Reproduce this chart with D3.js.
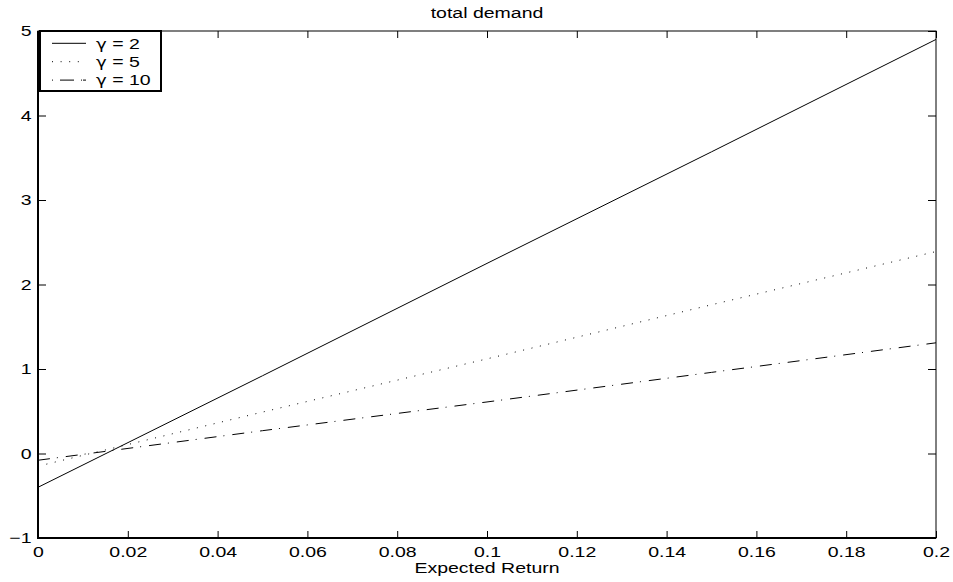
<!DOCTYPE html>
<html>
<head>
<meta charset="utf-8">
<script src="https://cdn.jsdelivr.net/npm/d3@7"></script>
<style>
  body { margin: 0; background: #fff; }
  text { font-family: "Liberation Sans", Arial, sans-serif; fill: #000; }
</style>
</head>
<body>
<div id="chart"></div>
<script>
//Datos
const expectedReturn = [0, 0.05, 0.1, 0.15, 0.2];
const demandGamma2 = [-0.40, 0.92, 2.25, 3.57, 4.90];
const demandGamma5 = [-0.15, 0.49, 1.12, 1.76, 2.39];
const demandGamma10 = [-0.08, 0.27, 0.61, 0.96, 1.31];
const gammaValues = ['2', '5', '10'];
const xTicks = [0, 0.02, 0.04, 0.06, 0.08, 0.1, 0.12, 0.14, 0.16, 0.18, 0.2];
const yTicks = [-1, 0, 1, 2, 3, 4, 5];

//Estilos de linea
const dashes = [null, '1,7.6', '12,7,1,8'];
const FONT = '"Liberation Sans", Arial, sans-serif';
const FS = 15, SX = 1.3; //texto estirado en horizontal como en la figura original

let margin = {top: 31, right: 17, bottom: 44, left: 38},
    width = 953 - margin.left - margin.right,
    height = 582 - margin.top - margin.bottom;

let svg = d3.select('#chart')
    .append('svg')
      .attr('width', 953)
      .attr('height', 582)
    .append('g')
      .attr('transform', 'translate(' + margin.left + ',' + margin.top + ')');

let x = d3.scaleLinear().domain([0, 0.2]).range([0, width]);
let y = d3.scaleLinear().domain([-1, 5]).range([height, 0]);

let fmt = function(d) { return d < 0 ? '\u2212' + Math.abs(d) : String(d); };

//Ejes (ticks hacia dentro)
svg.append('g')
    .attr('transform', 'translate(0,' + height + ')')
    .call(d3.axisBottom(x).tickValues(xTicks).tickFormat(fmt).tickSizeInner(-7).tickSizeOuter(0).tickPadding(8))
    .call(function(g) { g.select('.domain').remove(); })
    .call(function(g) {
        g.selectAll('.tick text')
            .attr('font-size', FS).attr('font-family', FONT)
            .attr('transform', 'scale(' + SX + ',1)');
    });

svg.append('g')
    .call(d3.axisTop(x).tickValues(xTicks).tickFormat('').tickSizeInner(-7).tickSizeOuter(0))
    .call(function(g) { g.select('.domain').remove(); });

svg.append('g')
    .call(d3.axisLeft(y).tickValues(yTicks).tickFormat(fmt).tickSizeInner(-8).tickSizeOuter(0).tickPadding(5))
    .call(function(g) { g.select('.domain').remove(); })
    .call(function(g) {
        g.selectAll('.tick text')
            .attr('font-size', FS).attr('font-family', FONT)
            .attr('transform', 'scale(' + SX + ',1)');
    });

svg.append('g')
    .attr('transform', 'translate(' + width + ',0)')
    .call(d3.axisRight(y).tickValues(yTicks).tickFormat('').tickSizeInner(-8).tickSizeOuter(0))
    .call(function(g) { g.select('.domain').remove(); });

svg.selectAll('.tick line').attr('stroke', '#000');

//Caja
svg.append('rect')
    .attr('width', width)
    .attr('height', height)
    .attr('fill', 'none')
    .attr('stroke', '#000')
    .attr('stroke-width', 1);
svg.append('path')
    .attr('d', 'M0,0V' + height + 'H' + width)
    .attr('fill', 'none')
    .attr('stroke', '#000')
    .attr('stroke-width', 2);

//Lineas
let line = d3.line()
    .x(function(d) { return x(d[0]); })
    .y(function(d) { return y(d[1]); });

let allSeries = [demandGamma2, demandGamma5, demandGamma10];

svg.append('g').selectAll('path')
    .data(allSeries)
    .enter()
    .append('path')
    .attr('d', function(d) { return line(d3.zip(expectedReturn, d)); })
    .attr('fill', 'none')
    .attr('stroke', '#000')
    .attr('stroke-width', 1)
    .attr('stroke-dasharray', function(d, i) { return dashes[i]; });

//Titulo y etiqueta
function stretchedText(parent, tx, ty, anchor, str) {
    return parent.append('text')
        .attr('transform', 'translate(' + tx + ',' + ty + ') scale(' + SX + ',1)')
        .attr('text-anchor', anchor)
        .attr('font-size', FS)
        .text(str);
}

stretchedText(svg, width / 2, -13, 'middle', 'total demand');
stretchedText(svg, width / 2, height + 35, 'middle', 'Expected Return');

//Leyenda
let legend = svg.append('g').attr('transform', 'translate(2,0)');
legend.append('rect')
    .attr('width', 121)
    .attr('height', 60)
    .attr('fill', '#fff')
    .attr('stroke', '#000')
    .attr('stroke-width', 2);

let rows = legend.selectAll('.row')
    .data(gammaValues)
    .enter()
    .append('g')
    .attr('class', 'row')
    .attr('transform', function(d, i) { return 'translate(0,' + (12.3 + i * 18.4) + ')'; });

rows.append('line')
    .attr('x1', 12).attr('x2', 46)
    .attr('stroke', '#000')
    .attr('stroke-width', 1)
    .attr('stroke-dasharray', function(d, i) { return i == 2 ? '1,7,14,7,1' : dashes[i]; });

let legendText = rows.append('text')
    .attr('transform', 'translate(56,0) scale(' + SX + ',1)')
    .attr('dy', '0.35em')
    .attr('font-size', FS);
legendText.append('tspan')
    .attr('font-family', '"DejaVu Sans", sans-serif')
    .attr('font-size', FS - 1)
    .text('γ');
legendText.append('tspan')
    .text(function(d) { return ' = ' + d; });
</script>
</body>
</html>
